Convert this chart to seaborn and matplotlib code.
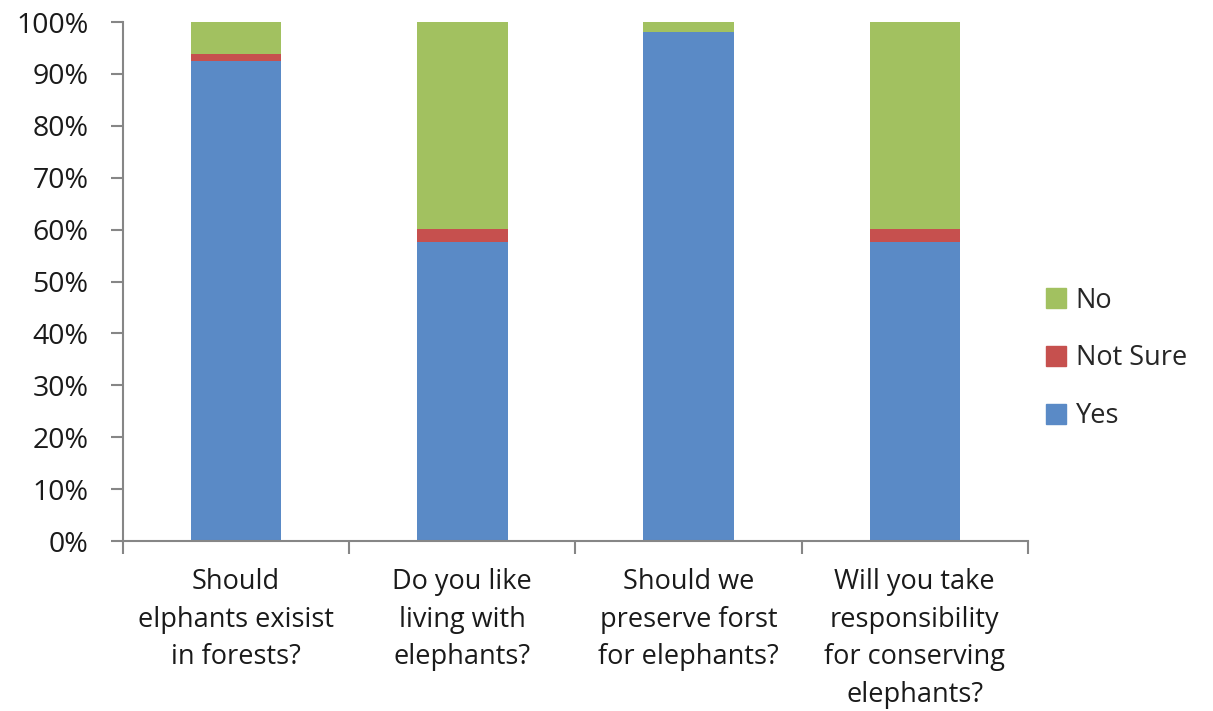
import matplotlib
matplotlib.use("Agg")
import matplotlib.pyplot as plt
import seaborn as sns
import numpy as np
import pandas as pd
from matplotlib.patches import Patch
from matplotlib.ticker import PercentFormatter

# survey answers in percent
questions = ["Should\nelphants exisist\nin forests?",
             "Do you like\nliving with\nelephants?",
             "Should we\npreserve forst\nfor elephants?",
             "Will you take\nresponsibility\nfor conserving\nelephants?"]
yes = [92.5, 57.7, 98.0, 57.7]
not_sure = [1.3, 2.4, 0.0, 2.4]
no = [6.2, 39.9, 2.0, 39.9]

colors = {"Yes": "#5A8AC6", "Not Sure": "#C6504E", "No": "#A2C160"}

sns.set_style("white")
plt.rcParams["font.family"] = ["Open Sans", "DejaVu Sans"]

df = pd.DataFrame({"question": questions, "Yes": yes, "Not Sure": not_sure, "No": no})
df["top_ns"] = df["Yes"] + df["Not Sure"]
df["top_no"] = df["top_ns"] + df["No"]

fig = plt.figure(figsize=(12.13, 7.11), dpi=100)
ax = fig.add_axes([0.1014, 0.239, 0.746, 0.730])

# stacked by drawing cumulative totals back to front
sns.barplot(data=df, x="question", y="top_no", color=colors["No"], width=0.4,
            saturation=1, ax=ax, edgecolor="none")
sns.barplot(data=df, x="question", y="top_ns", color=colors["Not Sure"], width=0.4,
            saturation=1, ax=ax, edgecolor="none")
sns.barplot(data=df, x="question", y="Yes", color=colors["Yes"], width=0.4,
            saturation=1, ax=ax, edgecolor="none")

ax.set_ylim(0, 100)
ax.set_xlim(-0.5, 3.5)
ax.set_yticks(np.arange(0, 101, 10))
ax.yaxis.set_major_formatter(PercentFormatter(decimals=0))
ax.set_xlabel("")
ax.set_ylabel("")

for side in ["top", "right"]:
    ax.spines[side].set_visible(False)
for side in ["left", "bottom"]:
    ax.spines[side].set_color("#868686")
    ax.spines[side].set_linewidth(1.5)

ax.tick_params(axis="y", which="major", left=True, length=9, width=1.5,
               color="#868686", labelsize=20.5, labelcolor="#1a1a1a", pad=16)
ax.tick_params(axis="x", which="major", bottom=False, labelsize=19.5,
               labelcolor="#1a1a1a", pad=16)
ax.set_xticks([-0.5, 0.5, 1.5, 2.5, 3.5], minor=True)
ax.tick_params(axis="x", which="minor", bottom=True, length=9, width=1.5,
               color="#868686")
for lbl in ax.get_xticklabels():
    lbl.set_linespacing(1.45)

handles = [Patch(color=colors[k], label=k) for k in ["No", "Not Sure", "Yes"]]
ax.legend(handles=handles, loc="center left", bbox_to_anchor=(0.993, 0.352),
          frameon=False, fontsize=19.5, handlelength=0.75, handleheight=0.75,
          handletextpad=0.35, labelspacing=1.1)

fig.savefig("out.png", dpi=100)
